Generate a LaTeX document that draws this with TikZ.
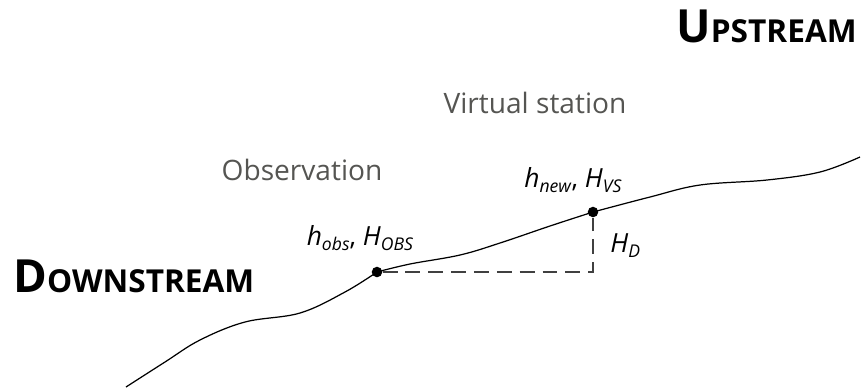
\documentclass[tikz,border=0pt]{standalone}
\usepackage{fontspec}
\setmainfont{Open Sans}
\usepackage{tikz}
\usetikzlibrary{positioning}
\definecolor{labelgray}{RGB}{85,85,82}
\newcommand{\vlab}[2]{\textit{#1}\raisebox{-0.4ex}{\fontsize{10}{11}\selectfont\textit{#2}}}
\newcommand{\fakesc}[2]{{\fontsize{26}{28}\selectfont\bfseries #1}{\fontsize{18}{20}\selectfont\bfseries #2}}

\begin{document}
\begin{tikzpicture}[x=0.02cm, y=-0.02cm,
    river/.style={line width=0.7pt, line join=round},
    gauge/.style={circle, fill=black, inner sep=0pt, minimum size=6pt},
    level/.style={dashed, dash pattern=on 8.5pt off 4.5pt, line width=0.8pt, draw=black!75},
    place/.style={text=labelgray, font=\fontsize{16}{19}\selectfont, inner sep=0pt},
    var/.style={font=\fontsize{15}{18}\selectfont, inner sep=0pt}
]
\useasboundingbox (0,0) rectangle (861,390);

% stations on the river
\node[gauge] (obs) at (377,272) {};
\node[gauge] (vs) at (593,212) {};
\coordinate (corner) at (593,272);
\coordinate (src) at (126,387);
\coordinate (mouth) at (860,157);

% river profile
\draw[river] plot[smooth, tension=0.6] coordinates {(src) (165,362) (200,340) (245,322) (300,313) (345,292) (obs)};
\draw[river] plot[smooth, tension=0.6] coordinates {(obs) (410,264) (460,255) (500,243) (550,226) (vs)};
\draw[river] plot[smooth, tension=0.6] coordinates {(vs) (650,197) (700,185) (767,180) (820,172) (mouth)};

% height difference
\draw[level] (obs) -- (corner) -- (vs);

% labels
\node[anchor=base east, inner sep=0pt] (up) at (857,42) {\fakesc{U}{PSTREAM}};
\node[anchor=base west, inner sep=0pt] (down) at (13,292) {\fakesc{D}{OWNSTREAM}};
\node[place, anchor=base] (obslab) at (302,180) {Observation};
\node[place, anchor=base] (vslab) at (535,113) {Virtual station};
\node[var, anchor=base] (hobs) at (360,245) {\vlab{h}{obs}, \vlab{H}{OBS}};
\node[var, anchor=base] (hvs) at (573,187) {\vlab{h}{new}, \vlab{H}{VS}};
\node[var, anchor=base west] (hd) at (610,252) {\vlab{H}{D}};
\end{tikzpicture}
\end{document}
